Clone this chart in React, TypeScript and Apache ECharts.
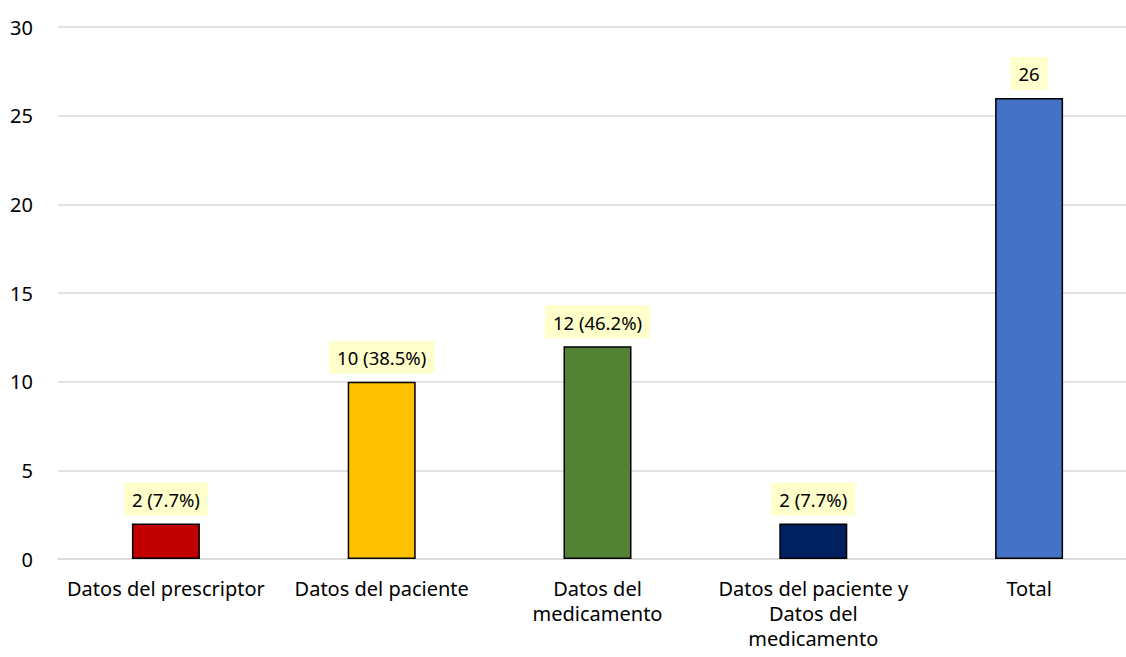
import React, { useEffect, useRef } from "react";
import * as echarts from "echarts";

const categories = [
  "Datos del prescriptor",
  "Datos del paciente",
  "Datos del\nmedicamento",
  "Datos del paciente y\nDatos del\nmedicamento",
  "Total",
];
const values = [2, 10, 12, 2, 26];
const barLabels = ["2 (7.7%)", "10 (38.5%)", "12 (46.2%)", "2 (7.7%)", "26"];
const barColors = ["#C00000", "#FFC000", "#548235", "#002060", "#4472C4"];
const yTicks = { min: 0, max: 30, interval: 5 };

const FONT = "'Noto Sans', 'Open Sans', sans-serif";

export default function App() {
  const ref = useRef<HTMLDivElement>(null);
  useEffect(() => {
    if (!ref.current) return;
    const chart = echarts.init(ref.current, null, { renderer: "svg" });
    chart.setOption({
      animation: false,
      grid: { left: 58, top: 27, right: 13, bottom: 98, containLabel: false },
      xAxis: {
        type: "category",
        data: categories,
        axisLine: { show: true, lineStyle: { color: "#D9D9D9", width: 1.5 } },
        axisTick: { show: false },
        axisLabel: {
          color: "#000",
          fontFamily: FONT,
          fontSize: 20,
          lineHeight: 25,
          margin: 17,
          interval: 0,
        },
      },
      yAxis: {
        type: "value",
        min: yTicks.min,
        max: yTicks.max,
        interval: yTicks.interval,
        axisLine: { show: false },
        axisTick: { show: false },
        splitLine: { lineStyle: { color: "#D9D9D9", width: 1.5 } },
        axisLabel: { color: "#000", fontFamily: FONT, fontSize: 20, margin: 25 },
      },
      series: [
        {
          type: "bar",
          barWidth: 68,
          data: values.map((v, i) => ({
            value: v,
            itemStyle: { color: barColors[i], borderColor: "#000", borderWidth: 1.5 },
          })),
          label: {
            show: true,
            position: "top",
            distance: 8,
            formatter: (p: any) => barLabels[p.dataIndex],
            color: "#000",
            fontFamily: FONT,
            fontSize: 18.5,
            lineHeight: 22,
            backgroundColor: "#FFFFCC",
            padding: [6, 8, 5, 8],
          },
        },
      ],
    });
    return () => chart.dispose();
  }, []);
  return (
    <div
      style={{ position: "fixed", left: 0, top: 0, width: 1126, height: 657, overflow: "hidden", background: "#fff" }}
    >
      <div ref={ref} style={{ width: 1150, height: 657 }} />
    </div>
  );
}
